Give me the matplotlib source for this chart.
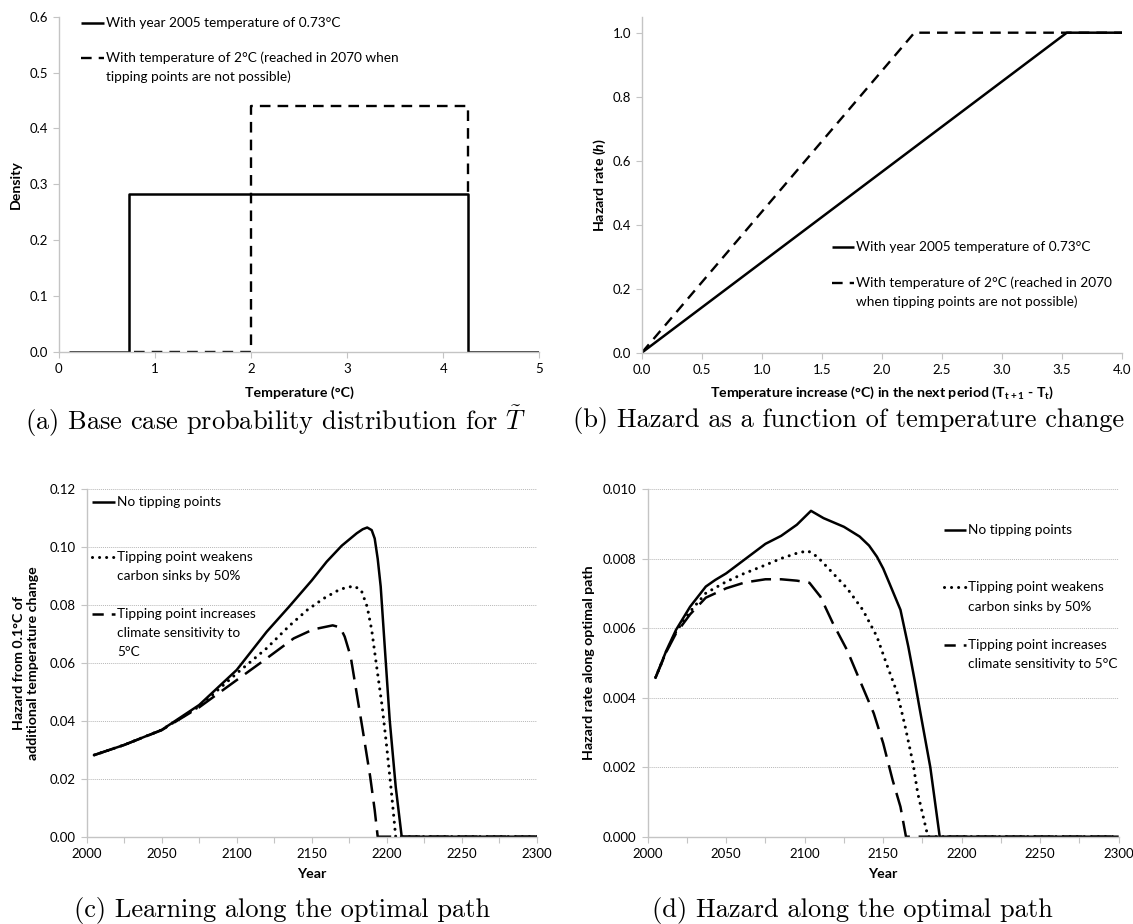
import matplotlib.pyplot as plt
from matplotlib.lines import Line2D
from matplotlib.ticker import FormatStrFormatter

plt.rcParams.update({'font.family': ['Lato', 'DejaVu Sans'],
                     'font.size': 9.5,
                     'mathtext.fontset': 'custom',
                     'mathtext.rm': 'Lato:bold',
                     'mathtext.bfit': 'Lato:bold:italic'})

# ---- data ----
# (a) density of the temperature distribution
temp_a_now = [0.1, 0.73, 0.73, 4.26, 4.26, 5.0]
dens_a_now = [0.0, 0.0, 0.282, 0.282, 0.0, 0.0]
temp_a_2c = [0.78, 2.0, 2.0, 4.26, 4.26]
dens_a_2c = [0.0, 0.0, 0.44, 0.44, 0.282]

# (b) hazard vs temperature increase
dtemp_b_now = [0.0, 3.54, 4.0]
haz_b_now = [0.0, 1.0, 1.0]
dtemp_b_2c = [0.0, 2.27, 4.0]
haz_b_2c = [0.0, 1.0, 1.0]

# (c) learning along the optimal path
years_c_none = [2005, 2025, 2050, 2075, 2100, 2120, 2135, 2150, 2160, 2170, 2180,
                2184, 2187, 2190, 2192, 2194, 2196, 2199, 2202, 2206, 2210, 2300]
learn_c_none = [0.0282, 0.0317, 0.0369, 0.0455, 0.0576, 0.0708, 0.0795, 0.0885, 0.0950,
                0.1005, 0.1048, 0.1062, 0.1068, 0.1059, 0.1030, 0.0960, 0.0864, 0.0633,
                0.0403, 0.0173, 0.0, 0.0]
years_c_sink = [2005, 2025, 2050, 2075, 2100, 2120, 2135, 2147, 2158, 2169, 2178,
                2183, 2187, 2190, 2193, 2197, 2200, 2203, 2206, 2300]
learn_c_sink = [0.0282, 0.0317, 0.0369, 0.0450, 0.0564, 0.0651, 0.0728, 0.0783, 0.0823,
                0.0855, 0.0866, 0.0852, 0.0794, 0.0714, 0.0599, 0.0449, 0.0311, 0.0161,
                0.0, 0.0]
years_c_sens = [2005, 2025, 2050, 2075, 2100, 2120, 2138, 2151, 2164, 2169, 2172,
                2176, 2180, 2184, 2189, 2192, 2194, 2300]
learn_c_sens = [0.0282, 0.0317, 0.0368, 0.0447, 0.0541, 0.0616, 0.0685, 0.0716, 0.0730,
                0.0723, 0.0691, 0.0622, 0.0495, 0.0369, 0.0207, 0.0092, 0.0, 0.0]

# (d) hazard along the optimal path
years_d_none = [2005, 2012, 2018, 2027, 2037, 2043, 2050, 2060, 2075, 2085, 2095, 2104,
                2112, 2125, 2135, 2141, 2146, 2150, 2154, 2161, 2166, 2170, 2173, 2180,
                2186, 2300]
haz_d_none = [0.00458, 0.00537, 0.00595, 0.00662, 0.00720, 0.00739, 0.00758, 0.00792,
              0.00843, 0.00866, 0.00898, 0.00938, 0.00917, 0.00892, 0.00864, 0.00838,
              0.00806, 0.00772, 0.00729, 0.00653, 0.00547, 0.00451, 0.00374, 0.00200,
              0.0, 0.0]
years_d_sink = [2005, 2012, 2018, 2027, 2037, 2050, 2060, 2075, 2085, 2095, 2102, 2108,
                2116, 2127, 2137, 2146, 2152, 2159, 2164, 2169, 2172, 2178.5, 2300]
haz_d_sink = [0.00458, 0.00535, 0.00590, 0.00648, 0.00701, 0.00734, 0.00755, 0.00782,
              0.00801, 0.00816, 0.00823, 0.00806, 0.00768, 0.00715, 0.00653, 0.00576,
              0.00499, 0.00413, 0.00317, 0.00211, 0.00125, 0.0, 0.0]
years_d_sens = [2005, 2012, 2018, 2027, 2037, 2050, 2062, 2075, 2085, 2095, 2103, 2110,
                2118, 2127, 2135, 2144, 2150, 2156, 2161, 2164.5, 2300]
haz_d_sens = [0.00458, 0.00533, 0.00585, 0.00640, 0.00688, 0.00715, 0.00732, 0.00741,
              0.00741, 0.00737, 0.00731, 0.00691, 0.00614, 0.00537, 0.00451, 0.00355,
              0.00269, 0.00163, 0.00086, 0.0, 0.0]

labels_a = ['With year 2005 temperature of 0.73°C',
            'With temperature of 2°C (reached in 2070 when\ntipping points are not possible)']
labels_b = ['With year 2005 temperature of 0.73°C',
            'With temperature of 2°C (reached in 2070\nwhen tipping points are not possible)']
labels_c = ['No tipping points', 'Tipping point weakens\ncarbon sinks by 50%',
            'Tipping point increases\nclimate sensitivity to\n5°C']
labels_d = ['No tipping points', 'Tipping point weakens\ncarbon sinks by 50%',
            'Tipping point increases\nclimate sensitivity to 5°C']

captions = ['(a) Base case probability distribution for $\\tilde{T}$',
            '(b) Hazard as a function of temperature change',
            '(c) Learning along the optimal path',
            '(d) Hazard along the optimal path']

W, H = 1133, 924
GRAY = '#c4c4c4'
LABEL_SIZE = 10.2
KEY_SIZE = 9.8

solid = dict(color='black', lw=1.8, solid_capstyle='butt', solid_joinstyle='round')
dash_short = dict(color='black', lw=1.7, dashes=(4.5, 3.0), dash_capstyle='butt')
dash_long = dict(color='black', lw=1.8, dashes=(8, 3.5), dash_capstyle='butt')
dash_long_key = dict(color='black', lw=1.8, dashes=(4.5, 3.2), dash_capstyle='butt')
dotted = dict(color='black', lw=2.2, dashes=(0.01, 2.3), dash_capstyle='round')


def px_axes(left, top, right, bottom):
    # pixel box (image coords) -> figure fraction rect
    return [left / W, 1 - bottom / H, (right - left) / W, (bottom - top) / H]


def style(ax):
    for s in ['top', 'right']:
        ax.spines[s].set_visible(False)
    for s in ['left', 'bottom']:
        ax.spines[s].set_color(GRAY)
        ax.spines[s].set_linewidth(1.0)
    ax.tick_params(direction='out', length=4, width=0.8, color=GRAY,
                   labelsize=9.5, pad=4)


def key(fig, x0, x1, ys, labels, styles, dy):
    for y, lab, st in zip(ys, labels, styles):
        fig.add_artist(Line2D([x0 / W, x1 / W], [1 - y / H, 1 - y / H],
                              transform=fig.transFigure, **st))
        for j, line in enumerate(lab.split('\n')):
            fig.text((x1 + 2) / W, 1 - (y + j * dy) / H, line,
                     ha='left', va='center', fontsize=KEY_SIZE)


def labels_xy(ax, xlabel, ylabel, xpos, ypos):
    ax.set_xlabel(xlabel, fontweight='bold', fontsize=LABEL_SIZE)
    ax.set_ylabel(ylabel, fontweight='bold', fontsize=LABEL_SIZE)
    ax.xaxis.label.set_va('center')
    ax.yaxis.label.set_va('center')
    ax.xaxis.set_label_coords(0.5, xpos)
    ax.yaxis.set_label_coords(ypos, 0.5)


fig = plt.figure(figsize=(W / 100, H / 100), dpi=100)

# (a)
ax = fig.add_axes(px_axes(58.9, 16.7, 539.3, 351.7))
style(ax)
ax.plot(temp_a_now, dens_a_now, **solid)
ax.plot(temp_a_2c, dens_a_2c, **dash_short)
ax.set_xlim(0, 5)
ax.set_ylim(0, 0.6)
ax.set_xticks(range(0, 6))
ax.set_yticks([0, 0.1, 0.2, 0.3, 0.4, 0.5, 0.6])
ax.yaxis.set_major_formatter(FormatStrFormatter('%.1f'))
labels_xy(ax, 'Temperature (°C)', 'Density', -0.123, -0.089)
key(fig, 81, 104, [23, 58], labels_a, [solid, dash_short], 19)

# (b)
ax = fig.add_axes(px_axes(642, 16.7, 1122, 352.5))
style(ax)
ax.plot(dtemp_b_now, haz_b_now, **solid)
ax.plot(dtemp_b_2c, haz_b_2c, **dash_short)
ax.set_xlim(0, 4)
ax.set_ylim(0, 1.05)
ax.set_xticks([0, 0.5, 1, 1.5, 2, 2.5, 3, 3.5, 4])
ax.set_yticks([0, 0.2, 0.4, 0.6, 0.8, 1.0])
ax.xaxis.set_major_formatter(FormatStrFormatter('%.1f'))
ax.yaxis.set_major_formatter(FormatStrFormatter('%.1f'))
ax.set_xlabel('Temperature increase (°C) in the next period '
              '(T$_{\\mathrm{t+1}}$ - T$_{\\mathrm{t}}$)',
              fontweight='bold', fontsize=LABEL_SIZE, math_fontfamily='custom')
ax.set_ylabel('Hazard rate ($\\mathbfit{h}$)', fontweight='bold', fontsize=LABEL_SIZE,
              math_fontfamily='custom')
ax.xaxis.label.set_va('center')
ax.yaxis.label.set_va('center')
ax.xaxis.set_label_coords(0.5, -0.12)
ax.yaxis.set_label_coords(-0.0875, 0.5)
key(fig, 832, 854, [247, 283], labels_b, [solid, dash_short], 18.5)

# (c)
ax = fig.add_axes(px_axes(86.7, 489.3, 536.7, 836.7))
style(ax)
ax.plot(years_c_none, learn_c_none, **solid)
ax.plot(years_c_sink, learn_c_sink, **dotted)
ax.plot(years_c_sens, learn_c_sens, **dash_long)
ax.set_xlim(2000, 2300)
ax.set_ylim(0, 0.12)
ax.set_xticks(range(2000, 2301, 25))
ax.set_xticklabels([str(y) if y % 50 == 0 else '' for y in range(2000, 2301, 25)])
ax.set_yticks([0, 0.02, 0.04, 0.06, 0.08, 0.10, 0.12])
ax.yaxis.set_major_formatter(FormatStrFormatter('%.2f'))
ax.grid(axis='y', color='#b8b8b8', lw=0.7, ls=(0, (1, 1)))
ax.set_axisbelow(True)
labels_xy(ax, 'Year', 'Hazard from 0.1°C of\nadditional temperature change', -0.107, -0.135)
key(fig, 92, 115, [501.7, 557.3, 614], labels_c, [solid, dotted, dash_long_key], 19.2)

# (d)
ax = fig.add_axes(px_axes(647.7, 489.3, 1118.7, 836.7))
style(ax)
ax.plot(years_d_none, haz_d_none, **solid)
ax.plot(years_d_sink, haz_d_sink, **dotted)
ax.plot(years_d_sens, haz_d_sens, **dash_long)
ax.set_xlim(2000, 2300)
ax.set_ylim(0, 0.010)
ax.set_xticks(range(2000, 2301, 25))
ax.set_xticklabels([str(y) if y % 50 == 0 else '' for y in range(2000, 2301, 25)])
ax.set_yticks([0, 0.002, 0.004, 0.006, 0.008, 0.010])
ax.yaxis.set_major_formatter(FormatStrFormatter('%.3f'))
ax.grid(axis='y', color='#b8b8b8', lw=0.7, ls=(0, (1, 1)))
ax.set_axisbelow(True)
labels_xy(ax, 'Year', 'Hazard rate along optimal path', -0.107, -0.125)
key(fig, 944, 966, [530, 587.3, 645], labels_d, [solid, dotted, dash_long_key], 19.3)

# captions
for (cx, cy), cap in zip([(276, 421), (849, 421), (282, 910), (852, 910)], captions):
    fig.text(cx / W, 1 - cy / H, cap, ha='center', va='center', fontsize=19,
             family='cmr10', math_fontfamily='cm')

fig.savefig('out.png', dpi=100)
